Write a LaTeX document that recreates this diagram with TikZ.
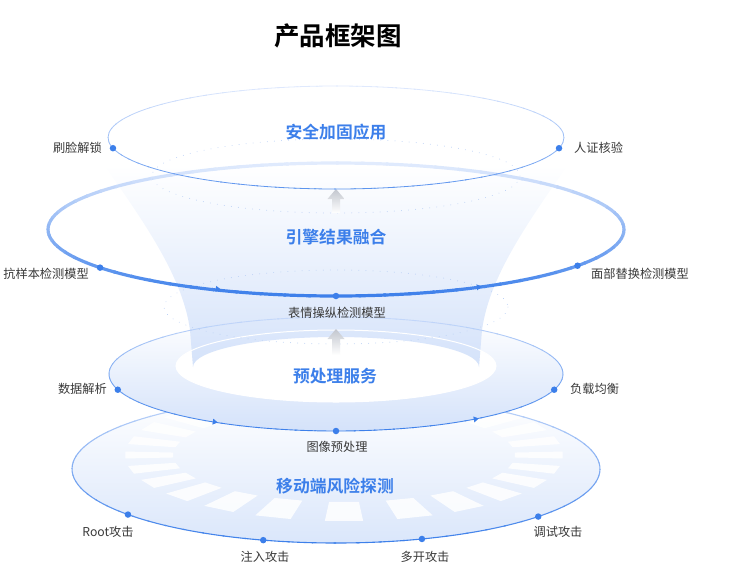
\documentclass[tikz,border=0pt]{standalone}
\usepackage{fontspec}
\setmainfont{Noto Sans CJK SC}[BoldFont={Noto Sans CJK SC Bold}]
\usepackage{tikz}

\definecolor{mainblue}{HTML}{3C7FEA}
\definecolor{paleblue}{HTML}{D4E2FA}
\definecolor{lineblue}{HTML}{C6D9FA}
\definecolor{bandblue}{HTML}{E1EBFD}
\definecolor{rimpale}{HTML}{DFE9FD}
\definecolor{rimblue}{HTML}{5C94EE}
\definecolor{dotline}{HTML}{BDD2F6}
\definecolor{labelgray}{HTML}{383838}
\definecolor{liftgray}{HTML}{C2C6CE}

\newcommand{\gradring}[7]{%
  \foreach \a in {0,5,...,355}{%
    \pgfmathtruncatemacro{\mixval}{50+50*sin(\a+2.5)}%
    \draw[line width=#5, color=#7!\mixval!#6] ({#1+#3*cos(\a)},{#2+#4*sin(\a)})
      arc[start angle=\a, end angle=\a+5.5, x radius=#3, y radius=#4];
  }}
\newcommand{\liftarrow}[3]{%
  \shade[top color=liftgray, bottom color=white] (#1,#2) -- (#1+8.5,#2+10) -- (#1+4,#2+10)
    -- (#1+4,#3) -- (#1-4,#3) -- (#1-4,#2+10) -- (#1-8.5,#2+10) -- cycle;}

\begin{document}
\begin{tikzpicture}[x=1pt, y=-1pt]
        \tikzset{spot/.style={circle, fill=mainblue, inner sep=0pt, minimum size=6.5pt},
                 lbl/.style={text=labelgray, font=\fontsize{12.2}{14}\selectfont, inner sep=0pt},
                 layer/.style={text=mainblue, font=\fontsize{16.8}{20}\selectfont\bfseries, inner sep=0pt},
                 dots/.style={dotline, line width=0.9pt, dash pattern=on 0.1pt off 7pt, line cap=round}}
        \useasboundingbox (0,0) rectangle (731,574);

        \shade[top color=white, bottom color=paleblue!85!white] (336,469) ellipse [x radius=264, y radius=74];
        \foreach \a in {-52,-39,-26,-13,0,13,26,40,55,71,90,109,125,140,154,167,180,193,206,219,232}{
          \pgfmathsetmacro{\w}{3+2*abs(sin(\a))}
          \fill[white, opacity=0.85] ({344+171*cos(\a-\w)},{455+47*sin(\a-\w)}) -- ({344+219*cos(\a-\w)},{455+66*sin(\a-\w)})
            -- ({344+219*cos(\a+\w)},{455+66*sin(\a+\w)}) -- ({344+171*cos(\a+\w)},{455+47*sin(\a+\w)}) -- cycle;
        }
        \gradring{336}{469}{264}{74}{1.1pt}{lineblue}{mainblue}

        \shade[top color=white, bottom color=paleblue] (336,374) ellipse [x radius=227, y radius=57];
        \fill[white] (336,366) ellipse [x radius=160, y radius=36];
        \shade[top color=white, middle color=paleblue!35!white, bottom color=paleblue]
          (104,165) .. controls (150,230) and (183,280) .. (190,330) -- (193,367)
          arc[start angle=180, end angle=360, x radius=143, y radius=30]
          -- (482,330) .. controls (489,280) and (522,230) .. (568,165) -- cycle;
        \draw[white, line width=1pt] (336,366) ellipse [x radius=160, y radius=36];
        \gradring{336}{374}{227}{57}{0.9pt}{lineblue}{mainblue}

        \draw[dots] (336,307) ellipse [x radius=172, y radius=37];
        \liftarrow{336}{329}{355}
        \gradring{336}{229.5}{288}{66.5}{3.2pt}{bandblue}{mainblue}
        \draw[dots] (336,176) ellipse [x radius=184, y radius=37];
        \liftarrow{336}{189}{213}
        \gradring{336}{137.5}{228}{51.5}{0.8pt}{rimpale}{rimblue}

        \foreach \mx/\my/\mr in {218/289/-6, 479/287/7, 215/422/-9, 476/419/11}
          \fill[mainblue, shift={(\mx,\my)}, rotate=\mr] (-2.2,-3) -- (2.8,0) -- (-2.2,3) -- cycle;

        \node[font=\fontsize{25.5}{30}\selectfont\bfseries] (title) at (338,36) {产品框架图};

        \node[layer] (app)    at (336,132) {安全加固应用};
        \node[layer] (fuse)   at (336,237) {引擎结果融合};
        \node[layer] (prep)   at (335,376) {预处理服务};
        \node[layer] (detect) at (335,486) {移动端风险探测};

        \node[spot] (unlock) at ([shift={(336,137.5)}]168:228 and 51.5) {};
        \node[spot] (verify) at ([shift={(336,137.5)}]12:228 and 51.5) {};
        \node[spot] (advers) at ([shift={(336,229.5)}]145:288 and 66.5) {};
        \node[spot] (swap)   at ([shift={(336,229.5)}]33:288 and 66.5) {};
        \node[spot] (expr)   at ([shift={(336,229.5)}]90:288 and 66.5) {};
        \node[spot] (parse)  at ([shift={(336,374)}]164:227 and 57) {};
        \node[spot] (balance) at ([shift={(336,374)}]16:227 and 57) {};
        \node[spot] (image)  at ([shift={(336,374)}]90:227 and 57) {};
        \node[spot] (root)   at ([shift={(336,469)}]142:264 and 74) {};
        \node[spot] (inject) at ([shift={(336,469)}]106:264 and 74) {};
        \node[spot] (multi)  at ([shift={(336,469)}]71:264 and 74) {};
        \node[spot] (debug)  at ([shift={(336,469)}]40:264 and 74) {};

        \node[lbl, anchor=east] (unlockl)  at (102,148) {刷脸解锁};
        \node[lbl, anchor=west] (verifyl)  at (574,148) {人证核验};
        \node[lbl, anchor=east] (adversl)  at (89,274)  {抗样本检测模型};
        \node[lbl, anchor=west] (swapl)    at (591,274) {面部替换检测模型};
        \node[lbl]              (exprl)    at (337,313) {表情操纵检测模型};
        \node[lbl, anchor=east] (parsel)   at (107,389) {数据解析};
        \node[lbl, anchor=west] (balancel) at (570,389) {负载均衡};
        \node[lbl]              (imagel)   at (337,447) {图像预处理};
        \node[lbl]              (rootl)    at (108,532) {Root攻击};
        \node[lbl]              (injectl)  at (265,557) {注入攻击};
        \node[lbl]              (multil)   at (425,557) {多开攻击};
        \node[lbl]              (debugl)   at (558,532) {调试攻击};
    \end{tikzpicture}
\end{document}
